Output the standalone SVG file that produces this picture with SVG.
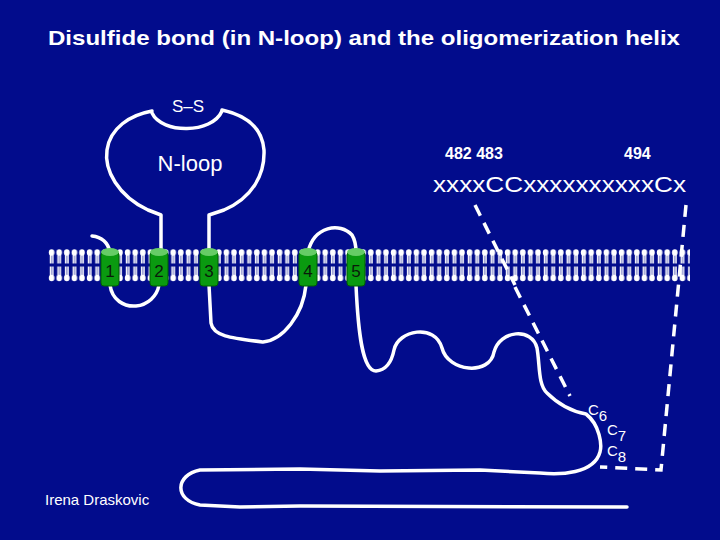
<svg xmlns="http://www.w3.org/2000/svg" width="720" height="540" viewBox="0 0 720 540">
<defs>
<style>
text{font-family:"Liberation Sans",Arial,sans-serif;fill:#fff}
.ln{fill:none;stroke:#fff;stroke-width:3.5;stroke-linecap:round;stroke-linejoin:round}
.ds{fill:none;stroke:#fff;stroke-width:3.5;stroke-dasharray:12 8}
.cyl{fill:#0a9a10;stroke:#006000;stroke-width:1}
.top{fill:#66cc66}
.num{font-size:17px;fill:#0b1a0b}
</style>
<pattern id="lip" x="48" y="246" width="7.6" height="40" patternUnits="userSpaceOnUse">
<ellipse cx="3.6" cy="6.5" rx="2.8" ry="3.3" fill="#fff"/>
<line x1="2.6" y1="8" x2="2.6" y2="17.5" stroke="#fff" stroke-width="1.7"/>
<line x1="4.8" y1="8" x2="4.8" y2="17.5" stroke="#fff" stroke-width="1.5"/>
<line x1="2.6" y1="20.5" x2="2.6" y2="30" stroke="#fff" stroke-width="1.7"/>
<line x1="4.8" y1="20.5" x2="4.8" y2="30" stroke="#fff" stroke-width="1.5"/>
<ellipse cx="3.6" cy="32" rx="2.8" ry="3.3" fill="#fff"/>
</pattern>
</defs>
<rect width="720" height="540" fill="#020c8c"/>
<text x="48" y="45" font-size="21" font-weight="bold" textLength="632" lengthAdjust="spacingAndGlyphs">Disulfide bond (in N-loop) and the oligomerization helix</text>
<g id="membrane"><rect x="48" y="246" width="642" height="40" fill="url(#lip)"/></g>
<g id="connectors">
<path class="ln" d="M92,236 C102,237 108,243 110,252"/>
<path class="ln" d="M110,285 C112,300 124,307 136,306 C148,305 157,296 159,285"/>
<path class="ln" d="M161,250 L161,215 L148,210 C118,196 104,170 107,150 C110,128 130,115 152,111"/>
<path class="ln" d="M209,250 L209,215 L224,210 C252,198 265,175 264,150 C262,126 245,115 222,110"/>
<path class="ln" d="M152,113 C162,134 212,134 222,111"/>
<path class="ln" d="M209,285 L211,323 C213,336 230,338 263,342 C283,340 303,315 306,285"/>
<path class="ln" d="M308,252 C314,226 340,222 352,235 C355,240 356,246 356,252"/>
<path class="ln" d="M356,285 C358,330 362,371 376,371 C388,370 392,360 394,350 C398,330 435,323 442,348 C448,372 490,376 494,352 C500,330 532,327 537,348 C540,365 538,385 547,393 C560,406 575,412 586,414 C600,425 602,445 600,452 C594,474 560,475 540,473 L480,470 L380,471 L300,469 L200,470 C175,475 174,500 200,505 L240,507 L300,506 L627,507"/>
<path class="ds" d="M475,205 L515,285"/>
<path class="ds" d="M515,287 L570,396"/>
<path class="ds" d="M686,205 L661,470 L600,467"/>
</g>
<g id="helix1"><rect class="cyl" x="101" y="252" width="18" height="34" rx="3"/><ellipse class="top" cx="110" cy="252" rx="9" ry="4"/><text class="num" x="110" y="277" text-anchor="middle">1</text></g>
<g id="helix2"><rect class="cyl" x="150" y="252" width="18" height="34" rx="3"/><ellipse class="top" cx="159" cy="252" rx="9" ry="4"/><text class="num" x="159" y="277" text-anchor="middle">2</text></g>
<g id="helix3"><rect class="cyl" x="200" y="252" width="18" height="34" rx="3"/><ellipse class="top" cx="209" cy="252" rx="9" ry="4"/><text class="num" x="209" y="277" text-anchor="middle">3</text></g>
<g id="helix4"><rect class="cyl" x="299" y="252" width="18" height="34" rx="3"/><ellipse class="top" cx="308" cy="252" rx="9" ry="4"/><text class="num" x="308" y="277" text-anchor="middle">4</text></g>
<g id="helix5"><rect class="cyl" x="347" y="252" width="18" height="34" rx="3"/><ellipse class="top" cx="356" cy="252" rx="9" ry="4"/><text class="num" x="356" y="277" text-anchor="middle">5</text></g>
<g id="labels">
<text x="188" y="112" font-size="17" text-anchor="middle">S–S</text>
<text x="190" y="171" font-size="22" text-anchor="middle">N-loop</text>
<text x="445" y="159" font-size="16" font-weight="bold">482  483</text>
<text x="624" y="159" font-size="16" font-weight="bold">494</text>
<text x="433" y="192" font-size="22" textLength="253" lengthAdjust="spacingAndGlyphs">xxxxCCxxxxxxxxxxCx</text>
<text x="588" y="415" font-size="15">C<tspan dy="6">6</tspan></text>
<text x="607" y="435" font-size="15">C<tspan dy="6">7</tspan></text>
<text x="607" y="456" font-size="15">C<tspan dy="6">8</tspan></text>
<text x="45" y="505" font-size="15">Irena Draskovic</text>
</g>
</svg>
